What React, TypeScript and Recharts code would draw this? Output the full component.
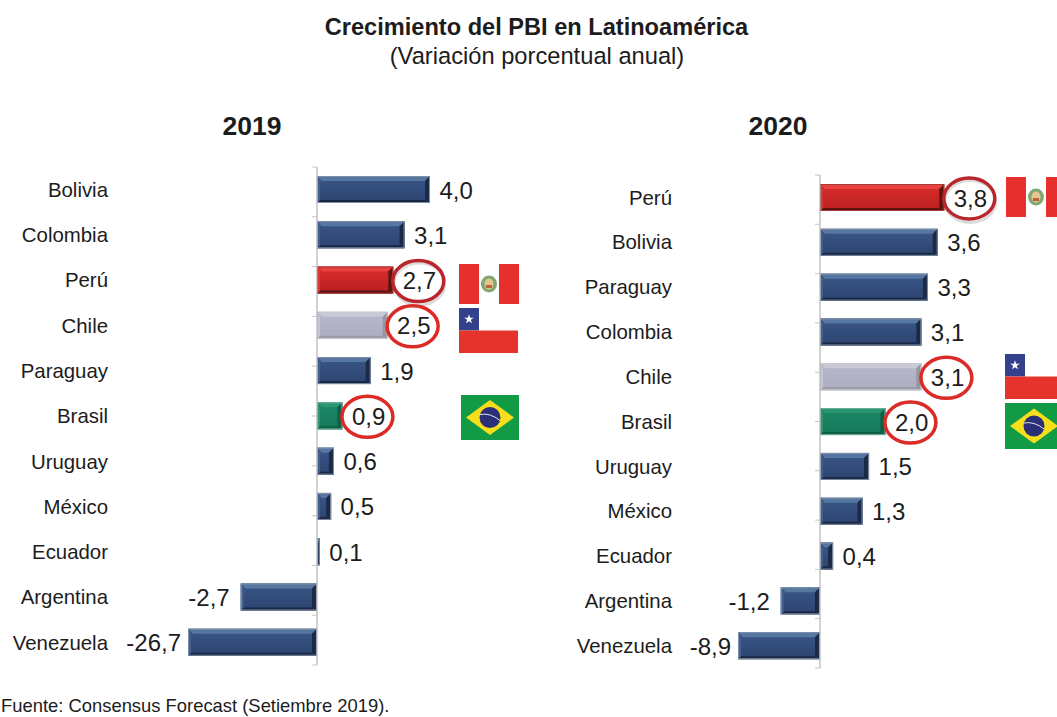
import React from "react";
import { BarChart, Bar, XAxis, YAxis, ReferenceLine, LabelList } from "recharts";

// GDP growth forecasts by country, in percent
const countries2019 = ["Bolivia", "Colombia", "Perú", "Chile", "Paraguay", "Brasil", "Uruguay", "México", "Ecuador", "Argentina", "Venezuela"];
const growth2019 = [4.0, 3.1, 2.7, 2.5, 1.9, 0.9, 0.6, 0.5, 0.1, -2.7, -26.7];
const countries2020 = ["Perú", "Bolivia", "Paraguay", "Colombia", "Chile", "Brasil", "Uruguay", "México", "Ecuador", "Argentina", "Venezuela"];
const growth2020 = [3.8, 3.6, 3.3, 3.1, 3.1, 2.0, 1.5, 1.3, 0.4, -1.2, -8.9];
const circled = ["Perú", "Chile", "Brasil"];
const rowEdges = [0, 1, 2, 3, 4, 5, 6, 7, 8, 9, 10, 11];

const FONT = "'Liberation Sans', Arial, sans-serif";
const INK = "#1c1c1c";

type Palette = { border: string; top: string; hi: string; lo: string; right: string; bottom: string; left: string };
const BLUE: Palette = { border: "#7f8fa8", top: "#56779f", hi: "#3a5788", lo: "#2c4470", right: "#1c2a48", bottom: "#1a2742", left: "#42608f" };
const RED: Palette = { border: "#a83a38", top: "#e8413f", hi: "#dc2c2c", lo: "#b81f20", right: "#5e1512", bottom: "#5a1411", left: "#d83a38" };
const GREY: Palette = { border: "#c8c8d2", top: "#c9c9d8", hi: "#b8b8cc", lo: "#adadc2", right: "#96969f", bottom: "#9a9aa6", left: "#c5c5d5" };
const GREEN: Palette = { border: "#6fae98", top: "#2a9573", hi: "#1c8765", lo: "#157a5a", right: "#0f5f47", bottom: "#0f6049", left: "#2a9573" };

const paletteOf = (name: string): Palette =>
  name === "Perú" ? RED : name === "Chile" ? GREY : name === "Brasil" ? GREEN : BLUE;

const fmt = (v: number) => v.toFixed(1).replace(".", ",");

// Bevelled bar; long negative bars stop at the left edge of the plot
const bevelBar = (plotLeft: number, prefix: string) => (props: any) => {
  const { x, y, width, height, country, index } = props;
  const l = Math.max(Math.min(x, x + width), plotLeft);
  const r = Math.max(x, x + width);
  const w = r - l;
  const p = paletteOf(country);
  const dx = Math.min(5, w / 2);
  const dt = 5;
  const db = 3;
  const gid = `${prefix}-${index}`;
  const t = y;
  const b = y + height;
  return (
    <g>
      <defs>
        <linearGradient id={gid} x1="0" y1="0" x2="0" y2="1">
          <stop offset="0" stopColor={p.hi} />
          <stop offset="1" stopColor={p.lo} />
        </linearGradient>
      </defs>
      <rect x={l} y={t} width={w} height={height} fill={`url(#${gid})`} />
      <polygon points={`${l},${t} ${r},${t} ${r - dx},${t + dt} ${l + dx},${t + dt}`} fill={p.top} />
      <polygon points={`${r},${t} ${r},${b} ${r - dx},${b - db} ${r - dx},${t + dt}`} fill={p.right} />
      <polygon points={`${l},${b} ${r},${b} ${r - dx},${b - db} ${l + dx * 0.6},${b - db}`} fill={p.bottom} />
      <polygon points={`${l},${t} ${l + dx * 0.6},${t + dt} ${l + dx * 0.6},${b - db} ${l},${b}`} fill={p.left} />
      <rect x={l + 0.5} y={t + 0.5} width={Math.max(w - 1, 0)} height={height - 1} fill="none" stroke={p.border} strokeWidth={1} />
    </g>
  );
};

// Value label beside the bar, ringed in red for the highlighted countries
const valueLabel = (plotLeft: number, names: string[]) => (props: any) => {
  const { x, y, width, height, value, index } = props;
  const left = Math.min(x, x + width);
  const right = Math.max(x, x + width);
  const cy = y + height / 2;
  const v = Number(value);
  const name = names[index];
  if (v < 0) {
    const endX = left < plotLeft ? plotLeft - 7 : left - 11;
    return (
      <text x={endX} y={cy + 0.5} textAnchor="end" dominantBaseline="central" fontFamily={FONT} fontSize={24} fill={INK}>
        {fmt(v)}
      </text>
    );
  }
  const startX = right + 9.5;
  return (
    <g>
      <text x={startX} y={cy + 0.5} textAnchor="start" dominantBaseline="central" fontFamily={FONT} fontSize={24} fill={INK}>
        {fmt(v)}
      </text>
      {circled.includes(name) && (
        <g>
          {name === "Perú" && (
            <ellipse cx={startX + 16.5} cy={cy + 4} rx={25.5} ry={21} fill="none" stroke="#999" strokeOpacity={0.35} strokeWidth={3} />
          )}
          <ellipse cx={startX + 15.5} cy={cy + 1} rx={25.5} ry={20.5} fill="none" stroke={name === "Perú" ? "#b9262c" : "#dc2a26"} strokeWidth={3.5} />
        </g>
      )}
    </g>
  );
};

type PanelProps = {
  names: string[];
  values: number[];
  id: string;
  left: number;
  chartWidth: number;
  plotLeft: number;
  plotRight: number;
  top: number;
  bottom: number;
  domain: [number, number];
  labelGap: number;
  tickLen: number;
};

function GrowthPanel(p: PanelProps) {
  const rows = p.names.map((country, i) => ({ country, value: p.values[i] }));
  const screenLeft = p.plotLeft - p.left;
  return (
    <div style={{ position: "absolute", left: p.left, top: 0 }}>
      <BarChart
        width={p.chartWidth}
        height={717}
        data={rows}
        layout="vertical"
        margin={{ top: p.top, bottom: 717 - p.bottom, left: 0, right: p.chartWidth - (p.plotRight - p.left) }}
      >
        <XAxis type="number" hide domain={p.domain} allowDataOverflow />
        <YAxis
          yAxisId="cat"
          type="category"
          dataKey="country"
          width={screenLeft}
          interval={0}
          axisLine={false}
          tickLine={false}
          tickSize={0}
          tickMargin={p.labelGap}
          tick={{ fontFamily: FONT, fontSize: 20.4, fill: INK }}
        />
        <YAxis yAxisId="frame" type="number" hide domain={[0, 11]} />
        <ReferenceLine yAxisId="cat" x={0} stroke="#b4b4b4" strokeWidth={1.2} />
        {rowEdges.map((e) => (
          <ReferenceLine
            key={e}
            yAxisId="frame"
            segment={[{ x: -p.tickLen, y: e }, { x: 0, y: e }]}
            stroke="#c4c4c4"
            strokeWidth={1}
          />
        ))}
        <Bar yAxisId="cat" dataKey="value" barSize={27} isAnimationActive={false} shape={bevelBar(screenLeft, p.id)}>
          <LabelList dataKey="value" content={valueLabel(screenLeft, p.names)} />
        </Bar>
      </BarChart>
    </div>
  );
}

function PeruFlag({ x, y }: { x: number; y: number }) {
  return (
    <g>
      <rect x={x} y={y} width={20} height={40} fill="#e5302d" />
      <rect x={x + 40} y={y} width={20} height={40} fill="#e5302d" />
      <ellipse cx={x + 30} cy={y + 20} rx={8} ry={8.5} fill="#7fa870" />
      <ellipse cx={x + 30} cy={y + 20} rx={4.5} ry={5.5} fill="#e2c68e" />
      <rect x={x + 27} y={y + 21} width={6} height={3} fill="#c0603c" />
    </g>
  );
}

function ChileFlag({ x, y, w, h }: { x: number; y: number; w: number; h: number }) {
  const cx = x + 10;
  const cy = y + h / 4;
  const star = [0, 1, 2, 3, 4, 5, 6, 7, 8, 9]
    .map((i) => {
      const r = i % 2 === 0 ? 5 : 2;
      const a = (-90 + i * 36) * (Math.PI / 180);
      return `${cx + r * Math.cos(a)},${cy + r * Math.sin(a)}`;
    })
    .join(" ");
  return (
    <g>
      <rect x={x} y={y} width={20} height={h / 2} fill="#33408c" />
      <polygon points={star} fill="#ffffff" />
      <rect x={x} y={y + h / 2} width={w} height={h / 2} fill="#e5342b" />
    </g>
  );
}

function BrazilFlag({ x, y, w, h }: { x: number; y: number; w: number; h: number }) {
  const cx = x + w / 2;
  const cy = y + h / 2;
  return (
    <g>
      <rect x={x} y={y} width={w} height={h} fill="#129a45" />
      <polygon points={`${cx - 24},${cy} ${cx},${cy - 17.5} ${cx + 24},${cy} ${cx},${cy + 17.5}`} fill="#f6df1a" />
      <circle cx={cx} cy={cy} r={10.5} fill="#2a2f78" />
      <path d={`M${cx - 10},${cy - 3} Q${cx},${cy - 5} ${cx + 10},${cy + 3}`} fill="none" stroke="#dfe3ef" strokeWidth={1} />
    </g>
  );
}

export default function App() {
  return (
    <div style={{ position: "absolute", left: 0, top: 0, width: 1057, height: 717, overflow: "hidden", background: "#fff" }}>
      <GrowthPanel
        names={countries2019}
        values={growth2019}
        id="y2019"
        left={0}
        chartWidth={540}
        plotLeft={188}
        plotRight={458.25}
        top={167}
        bottom={665}
        domain={[-4.566, 5]}
        labelGap={80}
        tickLen={0.18}
      />
      <GrowthPanel
        names={countries2020}
        values={growth2020}
        id="y2020"
        left={540}
        chartWidth={517}
        plotLeft={738}
        plotRight={983.5}
        top={175}
        bottom={668}
        domain={[-2.508, 5]}
        labelGap={66}
        tickLen={0.15}
      />
      <svg width={1057} height={717} style={{ position: "absolute", left: 0, top: 0, pointerEvents: "none" }}>
        <text x={536.5} y={35} textAnchor="middle" fontFamily={FONT} fontSize={23.6} fontWeight="bold" fill={INK}>
          Crecimiento del PBI en Latinoamérica
        </text>
        <text x={537} y={64} textAnchor="middle" fontFamily={FONT} fontSize={23.7} fill={INK}>
          (Variación porcentual anual)
        </text>
        <text x={252} y={135} textAnchor="middle" fontFamily={FONT} fontSize={26.5} fontWeight="bold" fill={INK}>
          2019
        </text>
        <text x={778} y={135} textAnchor="middle" fontFamily={FONT} fontSize={26.5} fontWeight="bold" fill={INK}>
          2020
        </text>
        <text x={1} y={712} fontFamily={FONT} fontSize={18.4} fill={INK}>
          Fuente: Consensus Forecast (Setiembre 2019).
        </text>
        <PeruFlag x={459} y={264} />
        <ChileFlag x={459} y={308} w={59} h={45} />
        <BrazilFlag x={461} y={395} w={58} h={45} />
        <PeruFlag x={1006} y={177} />
        <ChileFlag x={1005} y={354} w={60} h={45} />
        <BrazilFlag x={1005} y={403} w={58} h={46} />
      </svg>
    </div>
  );
}
